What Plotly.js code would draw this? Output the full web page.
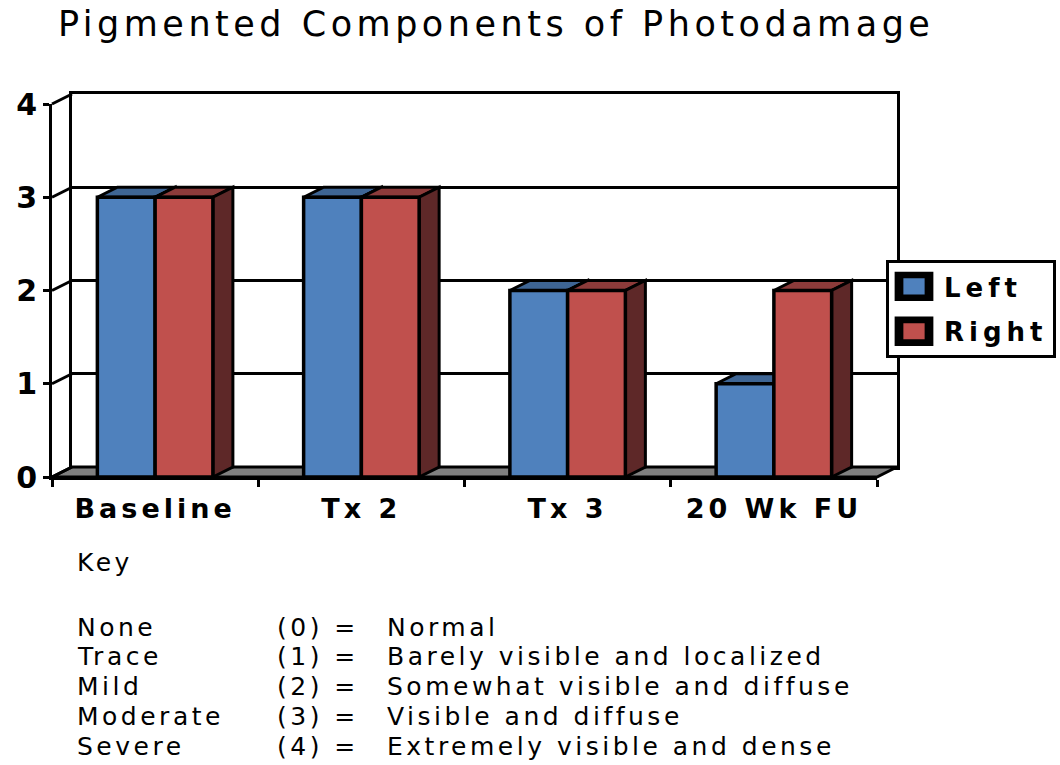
<!DOCTYPE html>
<html>
<head>
<meta charset="utf-8">
<script src="https://cdn.plot.ly/plotly-3.0.1.min.js"></script>
<style>
  html, body { margin: 0; padding: 0; background: #ffffff; }
  #chart { width: 1060px; height: 765px; }
  .gtitle { letter-spacing: 4.5px; }
  .x3tick text { letter-spacing: 4px; }
  .legendtext { letter-spacing: 5px; }
  .annotation-text { letter-spacing: 3.5px; }
  .legendpoints path { transform: translate(25px, 0) scale(2.5, 1.9); }
</style>
</head>
<body>
<div id="chart"></div>
<script>
// ---------------- data ----------------
const categories = ['Baseline', 'Tx 2', 'Tx 3', '20 Wk FU'];
const leftValues = [3, 3, 2, 1];
const rightValues = [3, 3, 2, 2];
const seriesNames = ['Left', 'Right'];
const yTickVals = [0, 1, 2, 3, 4];
const keyTitle = 'Key';
const keyLabels = ['None', 'Trace', 'Mild', 'Moderate', 'Severe'];
const keyCodes = ['(0) =', '(1) =', '(2) =', '(3) =', '(4) ='];
const keyDescriptions = ['Normal', 'Barely visible and localized', 'Somewhat visible and diffuse', 'Visible and diffuse', 'Extremely visible and dense'];
const chartTitle = 'Pigmented Components of Photodamage';

// ---------------- styling / layout ----------------
const W = 1060, H = 765;
const FRONT = { left: 52, right: 877, bottom: 477, top: 104 };
const DEPTH = { dx: 20, dy: 10 };
const frontColors = ['#4f81bd', '#c0504d'];
const topColors = ['#3e6594', '#8c3b3a'];
const sideColors = ['#30507a', '#5e2828'];
const floorColor = '#808080';
const barWidth = 0.28;
const barOffsets = [-barWidth, 0];
const FONT = 'DejaVu Sans';

const seriesValues = [leftValues, rightValues];
const xRange = [-0.5, categories.length - 0.5];
const yRange = [yTickVals[0], yTickVals[yTickVals.length - 1]];
const pxX = (FRONT.right - FRONT.left) / (xRange[1] - xRange[0]);
const pxY = (FRONT.bottom - FRONT.top) / (yRange[1] - yRange[0]);
const DX = DEPTH.dx / pxX, DY = DEPTH.dy / pxY;

function poly(pts) { return 'M' + pts.map(p => p[0] + ',' + p[1]).join('L') + 'Z'; }

// empty trace so that the back-wall subplot (x, y) is drawn
const traces = [{
  type: 'scatter', mode: 'lines', x: [], y: [], xaxis: 'x', yaxis: 'y',
  showlegend: false, hoverinfo: 'skip'
}];

seriesValues.forEach((vals, s) => traces.push({
  type: 'bar',
  x: categories,
  y: vals,
  name: seriesNames[s],
  xaxis: 'x3', yaxis: 'y3',
  width: barWidth,
  offset: barOffsets[s],
  legendgroup: seriesNames[s],
  marker: { color: frontColors[s], line: { color: '#000000', width: 3.5 } },
  hoverinfo: 'skip'
}));

const shapes = [];
// floor
shapes.push({
  type: 'path', xref: 'x2', yref: 'y2', layer: 'below',
  path: poly([[xRange[0], 0], [xRange[1], 0], [xRange[1] + DX, DY], [xRange[0] + DX, DY]]),
  fillcolor: floorColor, line: { color: '#000000', width: 3 }
});
// left wall edges
yTickVals.forEach(v => shapes.push({
  type: 'line', xref: 'x2', yref: 'y2', layer: 'below',
  x0: xRange[0], y0: v, x1: xRange[0] + DX, y1: v + DY,
  line: { color: '#000000', width: 3 }
}));
// bar top and side faces
seriesValues.forEach((vals, s) => vals.forEach((v, i) => {
  const x0 = i + barOffsets[s], x1 = x0 + barWidth;
  shapes.push({
    type: 'path', xref: 'x2', yref: 'y2', layer: 'below',
    path: poly([[x0, v], [x1, v], [x1 + DX, v + DY], [x0 + DX, v + DY]]),
    fillcolor: topColors[s], line: { color: '#000000', width: 3 }
  });
  shapes.push({
    type: 'path', xref: 'x2', yref: 'y2', layer: 'below',
    path: poly([[x1, 0], [x1 + DX, DY], [x1 + DX, v + DY], [x1, v]]),
    fillcolor: sideColors[s], line: { color: '#000000', width: 3 }
  });
}));

// key annotations
const KEY = { title: { x: 75, y: 562 }, cols: [75, 275, 385], firstRow: 627, rowStep: 29.8 };
const annotations = [];
function addText(text, px, py) {
  annotations.push({
    text: text, xref: 'paper', yref: 'paper', x: px / W, y: 1 - py / H,
    xanchor: 'left', yanchor: 'middle', showarrow: false,
    font: { family: FONT, size: 25, color: '#000000' }
  });
}
addText(keyTitle, KEY.title.x, KEY.title.y);
keyLabels.forEach((lab, r) => {
  const py = KEY.firstRow + r * KEY.rowStep;
  addText(lab, KEY.cols[0], py);
  addText(keyCodes[r], KEY.cols[1], py);
  addText(keyDescriptions[r], KEY.cols[2], py);
});

const layout = {
  width: W, height: H, autosize: false,
  margin: { l: 0, r: 0, t: 0, b: 0, pad: 0 },
  paper_bgcolor: '#ffffff',
  plot_bgcolor: 'rgba(0,0,0,0)',
  showlegend: true,
  barmode: 'group',
  title: {
    text: chartTitle, x: 58 / W, xanchor: 'left', y: 1 - 24 / H, yanchor: 'middle',
    font: { family: FONT, size: 35, color: '#000000' }
  },
  // back wall
  xaxis: {
    domain: [(FRONT.left + DEPTH.dx) / W, (FRONT.right + DEPTH.dx) / W],
    range: xRange, anchor: 'y', showline: true, mirror: true, linewidth: 3, linecolor: '#000000',
    showgrid: false, zeroline: false, showticklabels: false, ticks: '', fixedrange: true
  },
  yaxis: {
    domain: [(H - FRONT.bottom + DEPTH.dy) / H, (H - FRONT.top + DEPTH.dy) / H],
    range: yRange, anchor: 'x', showline: true, mirror: true, linewidth: 3, linecolor: '#000000',
    tickmode: 'array', tickvals: yTickVals, showgrid: true, gridcolor: '#000000', gridwidth: 3,
    zeroline: false, showticklabels: false, ticks: '', fixedrange: true
  },
  // full-page canvas for 3-D faces (same units as front axes)
  xaxis2: {
    domain: [0, 1], anchor: 'y2', visible: false, fixedrange: true,
    range: [xRange[0] - FRONT.left / pxX, xRange[0] + (W - FRONT.left) / pxX]
  },
  yaxis2: {
    domain: [0, 1], anchor: 'x2', visible: false, fixedrange: true,
    range: [yRange[0] - (H - FRONT.bottom) / pxY, yRange[0] + FRONT.bottom / pxY]
  },
  // front axes
  xaxis3: {
    domain: [FRONT.left / W, FRONT.right / W], anchor: 'y3', type: 'category',
    categoryorder: 'array', categoryarray: categories, range: xRange,
    showline: true, linewidth: 3, linecolor: '#000000', showgrid: false, zeroline: false,
    tickson: 'boundaries', ticks: 'outside', ticklen: 7, tickwidth: 3, tickcolor: '#000000',
    ticklabelstandoff: 6,
    tickfont: { family: FONT, size: 27, weight: 'bold', color: '#000000' }, fixedrange: true
  },
  yaxis3: {
    domain: [(H - FRONT.bottom) / H, (H - FRONT.top) / H], anchor: 'x3', range: yRange,
    tickmode: 'array', tickvals: yTickVals,
    showline: true, linewidth: 3, linecolor: '#000000', showgrid: false, zeroline: false,
    ticks: 'outside', ticklen: 6, tickwidth: 3, tickcolor: '#000000',
    tickfont: { family: FONT, size: 30, weight: 'bold', color: '#000000' }, fixedrange: true
  },
  legend: {
    x: 886 / W, y: 1 - 260 / H, xanchor: 'left', yanchor: 'top',
    bordercolor: '#000000', borderwidth: 3, bgcolor: '#ffffff',
    font: { family: FONT, size: 26, weight: 'bold', color: '#000000' },
    itemwidth: 45, tracegroupgap: 8, traceorder: 'grouped'
  },
  shapes: shapes,
  annotations: annotations
};

Plotly.newPlot('chart', traces, layout, { staticPlot: true, displayModeBar: false });
</script>
</body>
</html>
